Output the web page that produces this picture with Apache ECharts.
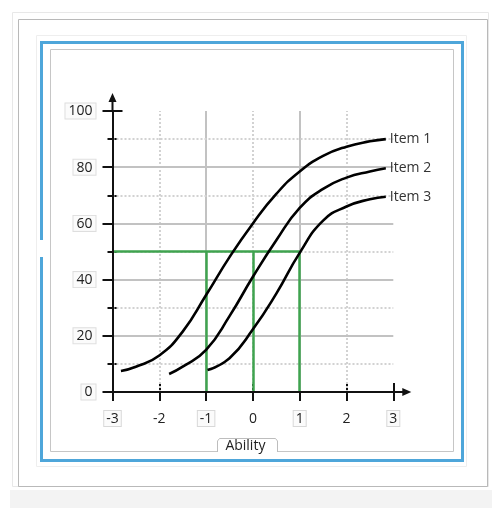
<!DOCTYPE html>
<html>
<head>
<meta charset="utf-8">
<script src="https://cdn.jsdelivr.net/npm/echarts@6/dist/echarts.min.js"></script>
<style>
html,body{margin:0;padding:0;background:#fff;}
#c{width:492px;height:508px;}
</style>
</head>
<body>
<div id="c"></div>
<script>
// ---- data ----
const abilityMin = -3, abilityMax = 3;
const percentMin = 0, percentMax = 100;
const boxedAbilityLabels = [-3, -1, 1, 3];

const item1X = [-2.82, -2.5, -2, -1.5, -1, -0.5, 0, 0.5, 1, 1.5, 2, 2.5, 2.84];
const item1Y = [7.5, 9, 13, 21.5, 34.5, 48, 60, 70.5, 78.5, 84, 87.3, 89.2, 90];
const item2X = [-1.79, -1.5, -1, -0.5, 0, 0.5, 1, 1.5, 2, 2.5, 2.84];
const item2Y = [6.4, 9, 15, 27, 41, 54, 65.5, 72.3, 76.3, 78.5, 79.6];
const item3X = [-0.97, -0.5, 0, 0.5, 1, 1.5, 2, 2.5, 2.84];
const item3Y = [7.8, 12, 22.3, 35, 49.5, 61, 66, 68.6, 69.5];
const itemNames = ['Item 1', 'Item 2', 'Item 3'];

// grid lines
const gridXSolid = [-1, 1];
const gridXDotted = [-2, 0, 2];
const gridYSolid = [20, 40, 60, 80];
const gridYDotted = [10, 30, 50, 70, 90];

// green guide lines: 50% level and the three ability points
const guideLevel = 50;
const guideX = [-1, 0, 1];

const font = '"Open Sans", "DejaVu Sans", sans-serif';
// arrow (pointing up, shaft + head) used at the axis ends
const arrowPath = 'path://M3,18 L3,9 L0,9 L4,0 L8,9 L5,9 L5,18 Z';

function pairs(xs, ys) { return xs.map((x, i) => [x, ys[i]]); }

const gridLineData = [].concat(
  gridXSolid.map(v => ({ xAxis: v, lineStyle: { color: '#c2c2c2', width: 2, type: 'solid' } })),
  gridXDotted.map(v => ({ xAxis: v, lineStyle: { color: '#d2d2d2', width: 2, type: [2, 2] } })),
  gridYSolid.map(v => ({ yAxis: v, lineStyle: { color: '#c2c2c2', width: 2, type: 'solid' } })),
  gridYDotted.map(v => ({ yAxis: v, lineStyle: { color: '#d2d2d2', width: 2, type: [2, 2] } }))
);

const greenData = [[{ coord: [abilityMin, guideLevel] }, { coord: [guideX[guideX.length - 1], guideLevel] }]]
  .concat(guideX.map(x => [{ coord: [x, percentMin] }, { coord: [x, guideLevel] }]));

function curve(name, xs, ys) {
  return {
    name: name, type: 'line', data: pairs(xs, ys), smooth: 0.5, showSymbol: false, symbol: 'none',
    z: 5, silent: true,
    lineStyle: { color: '#000', width: 2.6 },
    endLabel: { show: true, formatter: '{a}', color: '#333', fontSize: 14, fontFamily: font, distance: 4 }
  };
}

const axisLineStyle = {
  show: true, onZero: false, symbol: ['none', arrowPath], symbolSize: [8, 18], symbolOffset: [0, 9],
  lineStyle: { color: '#111', width: 2 }
};

const xAxisBase = {
  type: 'value', min: abilityMin, max: abilityMax, interval: 1, position: 'bottom',
  axisLine: { show: false, onZero: false }, splitLine: { show: false }
};
const yAxisBase = {
  type: 'value', min: percentMin, max: percentMax, interval: 20, position: 'left',
  axisLine: { show: false, onZero: false }, splitLine: { show: false }, minorSplitLine: { show: false }
};

const chart = echarts.init(document.getElementById('c'), null, { renderer: 'canvas' });
chart.setOption({
  animation: false,
  backgroundColor: '#ffffff',
  grid: { left: 112.5, right: 98.7, top: 111, bottom: 116, containLabel: false, outerBoundsMode: 'none' },
  xAxis: [
    Object.assign({}, xAxisBase, {
      axisLine: axisLineStyle, z: 6,
      axisTick: { show: true, inside: false, length: 9, lineStyle: { color: '#111', width: 2 } },
      axisLabel: {
        margin: 19, fontSize: 14, color: '#222', fontFamily: font,
        formatter: v => boxedAbilityLabels.indexOf(v) >= 0 ? '{b|' + v + '}' : '{n|' + v + '}',
        rich: {
          b: { fontSize: 14, color: '#222', fontFamily: font, borderColor: '#d8d8d8', borderWidth: 1, backgroundColor: '#fbfbfb', padding: [1, 2, 0, 2] },
          n: { fontSize: 14, color: '#222', fontFamily: font, padding: [1, 2, 0, 2] }
        }
      },
      name: 'Ability', nameLocation: 'middle', nameGap: 47,
      nameTextStyle: { fontSize: 14, color: '#222', fontFamily: font, padding: [0, 15, 0, 0] }
    }),
    Object.assign({}, xAxisBase, {
      axisTick: { show: true, inside: true, length: 9, lineStyle: { color: '#111', width: 2 } },
      axisLabel: { show: false }
    })
  ],
  yAxis: [
    Object.assign({}, yAxisBase, {
      axisLine: axisLineStyle, z: 6,
      axisTick: { show: true, inside: false, length: 10, lineStyle: { color: '#111', width: 2 } },
      minorTick: { show: true, splitNumber: 2, length: 5, lineStyle: { color: '#111', width: 2 } },
      axisLabel: {
        margin: 17, fontSize: 14, color: '#222', fontFamily: font,
        formatter: v => '{b|' + v + '}',
        rich: { b: { fontSize: 14, color: '#222', fontFamily: font, borderColor: '#dedede', borderWidth: 1, backgroundColor: '#fbfbfb', padding: [1, 3, 0, 3] } }
      }
    }),
    Object.assign({}, yAxisBase, {
      axisTick: { show: true, inside: true, length: 10, lineStyle: { color: '#111', width: 2 } },
      minorTick: { show: true, splitNumber: 2, length: 5, lineStyle: { color: '#111', width: 2 } },
      axisLabel: { show: false }
    })
  ],
  graphic: [
    { type: 'rect', shape: { x: 10, y: 490, width: 482, height: 18 }, style: { fill: '#f3f3f3' }, z: -10 },
    { type: 'rect', shape: { x: 12.5, y: 12.5, width: 476, height: 474 }, style: { fill: 'none', stroke: '#e8e8e8', lineWidth: 1 }, z: -9 },
    { type: 'rect', shape: { x: 18.5, y: 19.5, width: 469, height: 467 }, style: { fill: 'none', stroke: '#b9b9b9', lineWidth: 1 }, z: -9 },
    { type: 'rect', shape: { x: 36.5, y: 35.5, width: 430, height: 431 }, style: { fill: 'none', stroke: '#eeeeee', lineWidth: 1 }, z: -9 },
    { type: 'rect', shape: { x: 41.5, y: 42.5, width: 421, height: 418 }, style: { fill: 'none', stroke: '#4ea6da', lineWidth: 3 }, z: -8 },
    { type: 'rect', shape: { x: 38, y: 240, width: 7, height: 17 }, style: { fill: '#ffffff' }, z: -7 },
    { type: 'rect', shape: { x: 50.5, y: 49.5, width: 403, height: 402 }, style: { fill: 'none', stroke: '#c6c6c6', lineWidth: 1 }, z: -8 },
    { type: 'polyline', shape: { points: [[217.5, 452], [217.5, 441], [219.5, 438.5], [275.5, 438.5], [277.5, 441], [277.5, 452]] }, style: { fill: '#ffffff', stroke: '#bdbdbd', lineWidth: 1 }, z: -7 }
  ],
  series: [
    {
      name: 'grid', type: 'line', data: [], silent: true, z: 1,
      markLine: { silent: true, symbol: ['none', 'none'], label: { show: false }, animation: false, data: gridLineData }
    },
    {
      name: 'guides', type: 'line', data: [], silent: true, z: 2,
      markLine: { silent: true, symbol: ['none', 'none'], label: { show: false }, animation: false,
        lineStyle: { color: '#3fa34f', width: 2.5, type: 'solid' }, data: greenData }
    },
    curve(itemNames[0], item1X, item1Y),
    curve(itemNames[1], item2X, item2Y),
    curve(itemNames[2], item3X, item3Y)
  ]
});
</script>
</body>
</html>
